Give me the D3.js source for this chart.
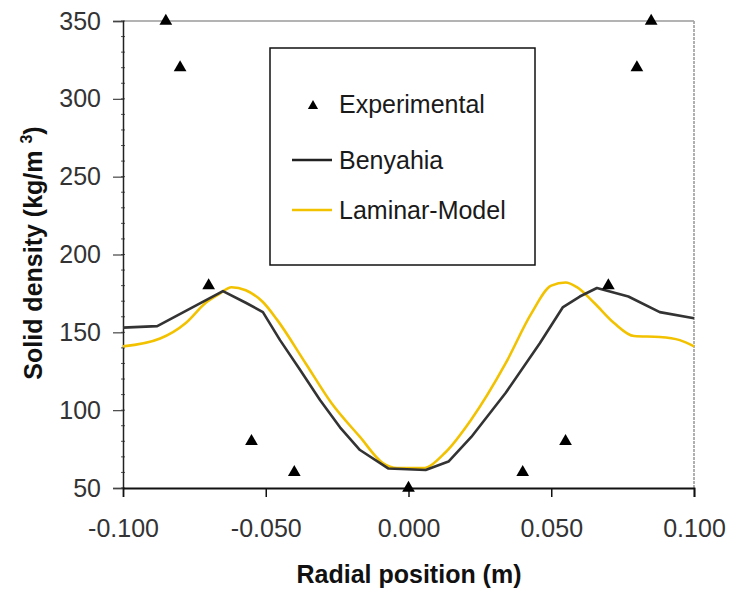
<!DOCTYPE html>
<html>
<head>
<meta charset="utf-8">
<script src="https://cdn.jsdelivr.net/npm/d3@7"></script>
<style>
  html, body { margin: 0; padding: 0; background: #fff; }
  svg { display: block; }
</style>
</head>
<body>
<div id="chart"></div>
<script>
// Solid density profiles across the riser radius
const expR   = [-0.085, -0.080, -0.070, -0.055, -0.040, 0.000, 0.040, 0.055, 0.070, 0.080, 0.085];
const expRho = [350, 320, 180, 80, 60, 50, 60, 80, 180, 320, 350];

const benR   = [-0.100, -0.088, -0.065, -0.057, -0.051, -0.045, -0.038, -0.031, -0.024, -0.017, -0.007, 0.006, 0.014, 0.022, 0.034, 0.046, 0.054, 0.060, 0.066, 0.077, 0.088, 0.100];
const benRho = [153, 154, 176.5, 169, 163, 145, 126, 106.5, 89, 74.4, 62.5, 61.6, 67, 82.8, 111, 143, 166, 173, 178.5, 173, 163, 159];

const lamR   = [-0.100, -0.087, -0.078, -0.071, -0.066, -0.062, -0.057, -0.051, -0.046, -0.036, -0.027, -0.017, -0.009, -0.004, 0.005, 0.013, 0.022, 0.034, 0.043, 0.050, 0.055, 0.059, 0.065, 0.072, 0.079, 0.088, 0.095, 0.100];
const lamRho = [141, 146, 156, 169, 175, 179, 177, 169.5, 158, 130, 104.6, 82.8, 66, 62.8, 62.8, 73, 94, 130, 162, 180, 182, 179, 169, 156, 147.6, 147, 145, 141];

const xTicks = [-0.100, -0.050, 0.000, 0.050, 0.100];
const yTicks = [50, 100, 150, 200, 250, 300, 350];
const legendLabels = ["Experimental", "Benyahia", "Laminar-Model"];

const W = 729, H = 594;
const plot = { left: 123, right: 694, top: 21, bottom: 488 };

const svg = d3.select("#chart").append("svg")
  .attr("width", W).attr("height", H);

const x = d3.scaleLinear().domain([-0.1, 0.1]).range([plot.left, plot.right]);
const y = d3.scaleLinear().domain([50, 350]).range([plot.bottom, plot.top]);

const font = "'Liberation Sans', Arial, sans-serif";

// plot frame: grey top and right edges
svg.append("line")
  .attr("x1", plot.left).attr("x2", plot.right)
  .attr("y1", plot.top).attr("y2", plot.top)
  .attr("stroke", "#9a9a9a").attr("stroke-width", 1.5);
svg.append("line")
  .attr("x1", plot.right).attr("x2", plot.right)
  .attr("y1", plot.top).attr("y2", plot.bottom)
  .attr("stroke", "#a8a8a8").attr("stroke-width", 1.8)
  .attr("stroke-dasharray", "3,1");

// y axis with minor ticks every 10
const yMinor = d3.range(50, 351, 10);
const yAxisG = svg.append("g").attr("transform", `translate(${plot.left},0)`);
yAxisG.selectAll("line.minor").data(yMinor).join("line")
  .attr("class", "minor")
  .attr("x1", -2).attr("x2", 2)
  .attr("y1", d => y(d)).attr("y2", d => y(d))
  .attr("stroke", "#555").attr("stroke-width", 1);
yAxisG.call(d3.axisLeft(y).tickValues(yTicks).tickSize(10).tickPadding(12).tickFormat(d3.format("d")))
  .call(g => g.select(".domain").attr("stroke", "#222").attr("stroke-width", 1.5))
  .call(g => g.selectAll(".tick line").attr("stroke", "#444").attr("stroke-width", 1.2))
  .call(g => g.selectAll(".tick text")
    .attr("font-family", font).attr("font-size", 25).attr("fill", "#333"));

// x axis
const xAxisG = svg.append("g").attr("transform", `translate(0,${plot.bottom})`);
xAxisG.call(d3.axisBottom(x).tickValues(xTicks).tickSize(9).tickPadding(22).tickFormat(d3.format(".3f")))
  .call(g => g.select(".domain").attr("stroke", "#111").attr("stroke-width", 1.8))
  .call(g => g.selectAll(".tick line").attr("stroke", "#111").attr("stroke-width", 1.5))
  .call(g => g.selectAll(".tick text")
    .attr("font-family", font).attr("font-size", 25).attr("fill", "#333")
    .text(d => d3.format(".3f")(d).replace("−", "-")));
xAxisG.select(".tick line").attr("stroke", "none");

// axis titles
svg.append("text")
  .attr("x", 409).attr("y", 583)
  .attr("text-anchor", "middle")
  .attr("font-family", font).attr("font-weight", "bold").attr("font-size", 25)
  .attr("fill", "#111")
  .text("Radial position (m)");

const yTitle = svg.append("text")
  .attr("transform", "translate(42,253) rotate(-90)")
  .attr("text-anchor", "middle")
  .attr("font-family", font).attr("font-weight", "bold").attr("font-size", 25)
  .attr("fill", "#111");
yTitle.append("tspan").text("Solid density (kg/m ");
yTitle.append("tspan").attr("font-size", 16).attr("dy", -10).text("3");
yTitle.append("tspan").attr("dy", 10).text(")");

// model curves
const benLine = d3.line().x(d => x(d[0])).y(d => y(d[1])).curve(d3.curveLinear);
const lamLine = d3.line().x(d => x(d[0])).y(d => y(d[1])).curve(d3.curveMonotoneX);

svg.append("path")
  .datum(lamR.map((r, i) => [r, lamRho[i]]))
  .attr("d", lamLine)
  .attr("fill", "none").attr("stroke", "#f2c200").attr("stroke-width", 2.6)
  .attr("stroke-linejoin", "round");

svg.append("path")
  .datum(benR.map((r, i) => [r, benRho[i]]))
  .attr("d", benLine)
  .attr("fill", "none").attr("stroke", "#333333").attr("stroke-width", 2.6)
  .attr("stroke-linejoin", "round");

// experimental points
const tri = d3.symbol().type(d3.symbolTriangle).size(70);
svg.selectAll("path.exp").data(expR.map((r, i) => [r, expRho[i]])).join("path")
  .attr("class", "exp")
  .attr("d", tri)
  .attr("transform", d => `translate(${x(d[0])},${y(d[1])})`)
  .attr("fill", "#000");

// legend
const lg = svg.append("g");
lg.append("rect")
  .attr("x", 270).attr("y", 48).attr("width", 265).attr("height", 217)
  .attr("fill", "#fff").attr("stroke", "#111").attr("stroke-width", 1.5);

const rows = [
  { y: 113, kind: "tri" },
  { y: 169, kind: "line", color: "#222" },
  { y: 219, kind: "line", color: "#f2c200" }
];
rows.forEach((row, i) => {
  if (row.kind === "tri") {
    lg.append("path")
      .attr("d", d3.symbol().type(d3.symbolTriangle).size(45))
      .attr("transform", `translate(313,${row.y - 7})`)
      .attr("fill", "#000");
  } else {
    lg.append("line")
      .attr("x1", 292).attr("x2", 332)
      .attr("y1", row.y - 9).attr("y2", row.y - 9)
      .attr("stroke", row.color).attr("stroke-width", 2.6);
  }
  lg.append("text")
    .attr("x", 339).attr("y", row.y)
    .attr("font-family", font).attr("font-size", 25).attr("fill", "#1a1a1a")
    .text(legendLabels[i]);
});
</script>
</body>
</html>
